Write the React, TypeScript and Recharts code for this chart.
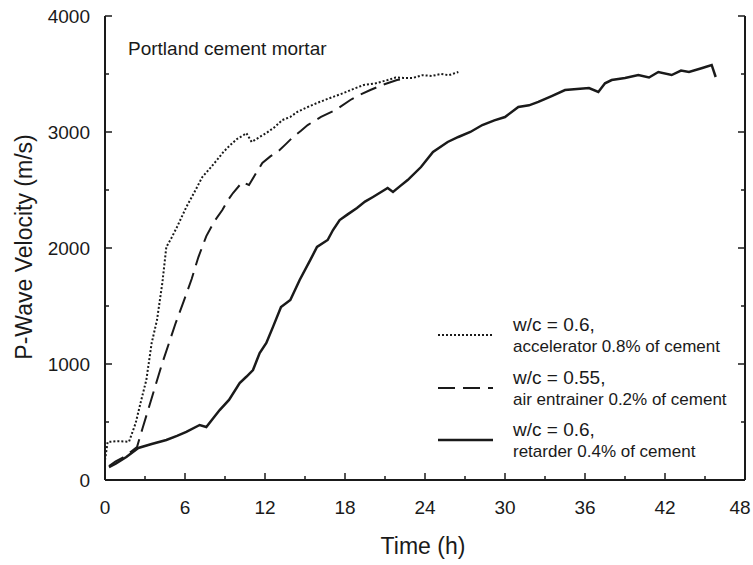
import { LineChart, Line, XAxis, YAxis, Customized } from "recharts";

// accelerator, w/c 0.6 (dotted)
const accelTime = [0, 0.2, 1.0, 1.8, 2.3, 2.7, 3.1, 3.5, 3.9, 4.3, 4.6, 5.0, 5.4, 6.1, 6.7, 7.3, 7.9, 8.4, 8.9, 9.4, 9.9, 10.4, 10.6, 11.0, 11.5, 12.1, 12.7, 13.3, 13.9, 14.4, 15.1, 15.9, 16.8, 17.9, 18.6, 19.4, 20.3, 21.2, 21.8, 22.4, 23.1, 23.8, 24.5, 25.2, 25.8, 26.5];
const accelVel = [172, 328, 335, 330, 491, 680, 862, 1181, 1379, 1698, 2009, 2090, 2181, 2353, 2480, 2612, 2690, 2759, 2830, 2888, 2940, 2974, 2990, 2914, 2950, 2991, 3040, 3103, 3130, 3172, 3210, 3250, 3290, 3336, 3370, 3405, 3420, 3448, 3470, 3466, 3466, 3490, 3483, 3500, 3490, 3517];

// air entrainer, w/c 0.55 (dashed)
const airTime = [0.3, 0.8, 1.3, 1.8, 2.4, 2.8, 3.3, 3.8, 4.3, 4.8, 5.3, 5.9, 6.5, 7.0, 7.6, 8.2, 8.8, 9.2, 9.6, 10.3, 10.8, 11.3, 11.8, 12.4, 13.1, 13.6, 14.1, 14.7, 15.2, 16.2, 17.3, 18.4, 19.1, 19.9, 20.9, 21.9, 22.5];
const airVel = [120, 160, 190, 230, 284, 440, 629, 820, 1009, 1180, 1353, 1540, 1733, 1920, 2103, 2230, 2328, 2410, 2474, 2569, 2543, 2640, 2733, 2790, 2845, 2900, 2957, 3010, 3060, 3130, 3190, 3276, 3320, 3362, 3410, 3448, 3460];

// retarder, w/c 0.6 (solid)
const retTime = [0.3, 0.8, 1.6, 2.5, 3.5, 4.6, 5.4, 6.1, 7.1, 7.6, 8.1, 8.6, 9.3, 10.1, 10.6, 11.1, 11.6, 12.1, 12.6, 13.2, 13.9, 14.6, 15.4, 15.9, 16.7, 17.1, 17.6, 18.2, 18.9, 19.5, 20.1, 21.2, 21.6, 22.2, 22.7, 23.7, 24.6, 25.7, 26.5, 27.4, 28.3, 29.2, 30.0, 31.0, 31.8, 32.5, 33.5, 34.5, 35.4, 36.3, 37.0, 37.5, 38.0, 39.0, 40.0, 40.8, 41.5, 42.5, 43.2, 43.8, 44.8, 45.5, 45.8];
const retVel = [112, 140, 198, 276, 310, 345, 380, 414, 474, 457, 530, 603, 690, 836, 890, 948, 1095, 1181, 1320, 1491, 1552, 1724, 1897, 2009, 2069, 2155, 2241, 2290, 2345, 2400, 2440, 2517, 2483, 2540, 2586, 2698, 2828, 2914, 2957, 3000, 3060, 3100, 3129, 3216, 3230, 3259, 3310, 3362, 3370, 3379, 3345, 3420, 3448, 3466, 3491, 3470, 3517, 3491, 3530, 3517, 3552, 3578, 3474];

const xTicks = [0, 3, 6, 9, 12, 15, 18, 21, 24, 27, 30, 33, 36, 39, 42, 45, 48];
const yTicks = [0, 500, 1000, 1500, 2000, 2500, 3000, 3500, 4000];

const FONT = "'Liberation Sans', Arial, sans-serif";
const INK = "#1a1a1a";

const toPoints = (t: number[], v: number[]) => t.map((x, i) => ({ t: x, v: v[i] }));

const series = [
  { name: "accel", data: toPoints(accelTime, accelVel), dash: "2 2", width: 2, top: "w/c = 0.6,", bottom: "accelerator 0.8% of cement" },
  { name: "air", data: toPoints(airTime, airVel), dash: "17 8", width: 2, top: "w/c = 0.55,", bottom: "air entrainer 0.2% of cement" },
  { name: "ret", data: toPoints(retTime, retVel), dash: undefined, width: 2.5, top: "w/c = 0.6,", bottom: "retarder 0.4% of cement" },
];

function BottomTick(props: any) {
  const { x, y, payload } = props;
  const major = payload.value % 6 === 0;
  // last label sits at the right edge, nudge it so it isn't clipped
  const lx = payload.value === 48 ? x - 5 : x;
  return (
    <g>
      <line x1={x} x2={x} y1={y} y2={y - (major ? 7 : 4)} stroke={INK} strokeWidth={1.5} />
      {major && (
        <text x={lx} y={y + 34} textAnchor="middle" fontSize={19} fill={INK} fontFamily={FONT}>
          {payload.value}
        </text>
      )}
    </g>
  );
}

function TopTick(props: any) {
  const { x, y, payload } = props;
  const major = payload.value % 6 === 0;
  return <line x1={x} x2={x} y1={y} y2={y + (major ? 7 : 4)} stroke={INK} strokeWidth={1.5} />;
}

function LeftTick(props: any) {
  const { x, y, payload } = props;
  const major = payload.value % 1000 === 0;
  return (
    <g>
      <line x1={x} x2={x + (major ? 7 : 4)} y1={y} y2={y} stroke={INK} strokeWidth={1.5} />
      {major && (
        <text x={x - 15} y={y + 7} textAnchor="end" fontSize={19} fill={INK} fontFamily={FONT}>
          {payload.value}
        </text>
      )}
    </g>
  );
}

function RightTick(props: any) {
  const { x, y, payload } = props;
  const major = payload.value % 1000 === 0;
  return <line x1={x} x2={x - (major ? 7 : 4)} y1={y} y2={y} stroke={INK} strokeWidth={1.5} />;
}

function Overlay() {
  const rows = [335, 388, 440];
  return (
    <g fontFamily={FONT} fill={INK}>
      <text x={128} y={55} fontSize={19}>Portland cement mortar</text>
      <text x={423} y={554} fontSize={23} textAnchor="middle">Time (h)</text>
      <text transform="translate(32,247) rotate(-90)" fontSize={23} textAnchor="middle">
        P-Wave Velocity (m/s)
      </text>
      {series.map((s, i) => (
        <g key={s.name}>
          <line x1={438} x2={493} y1={rows[i]} y2={rows[i]} stroke={INK} strokeWidth={s.width} strokeDasharray={s.dash} />
          <text x={513} y={rows[i] - 4} fontSize={19}>{s.top}</text>
          <text x={513} y={rows[i] + 17} fontSize={17}>{s.bottom}</text>
        </g>
      ))}
    </g>
  );
}

export default function App() {
  return (
    <div style={{ position: "absolute", left: 0, top: 0, width: 753, height: 565, background: "#fff" }}>
      <LineChart width={753} height={565} margin={{ top: 16, right: 0, bottom: 0, left: 0 }}>
        <XAxis
          xAxisId="b"
          dataKey="t"
          type="number"
          domain={[0, 48]}
          ticks={xTicks}
          interval={0}
          height={85}
          tickSize={0}
          tickMargin={0}
          tickLine={false}
          axisLine={{ stroke: INK, strokeWidth: 2 }}
          tick={<BottomTick />}
          allowDataOverflow
        />
        <XAxis
          xAxisId="top"
          orientation="top"
          dataKey="t"
          type="number"
          domain={[0, 48]}
          ticks={xTicks}
          interval={0}
          height={0}
          tickSize={0}
          tickMargin={0}
          tickLine={false}
          axisLine={{ stroke: INK, strokeWidth: 2 }}
          tick={<TopTick />}
          allowDataOverflow
        />
        <YAxis
          yAxisId="l"
          type="number"
          domain={[0, 4000]}
          ticks={yTicks}
          interval={0}
          width={105}
          tickSize={0}
          tickMargin={0}
          tickLine={false}
          axisLine={{ stroke: INK, strokeWidth: 2 }}
          tick={<LeftTick />}
          allowDataOverflow
        />
        <YAxis
          yAxisId="r"
          orientation="right"
          type="number"
          domain={[0, 4000]}
          ticks={yTicks}
          interval={0}
          width={8}
          tickSize={0}
          tickMargin={0}
          tickLine={false}
          axisLine={{ stroke: INK, strokeWidth: 2 }}
          tick={<RightTick />}
          allowDataOverflow
        />
        {series.map((s) => (
          <Line
            key={s.name}
            xAxisId="b"
            yAxisId="l"
            data={s.data}
            dataKey="v"
            type="linear"
            stroke={INK}
            strokeWidth={s.width}
            strokeDasharray={s.dash}
            dot={false}
            activeDot={false}
            isAnimationActive={false}
          />
        ))}
        <Customized component={Overlay} />
      </LineChart>
    </div>
  );
}
